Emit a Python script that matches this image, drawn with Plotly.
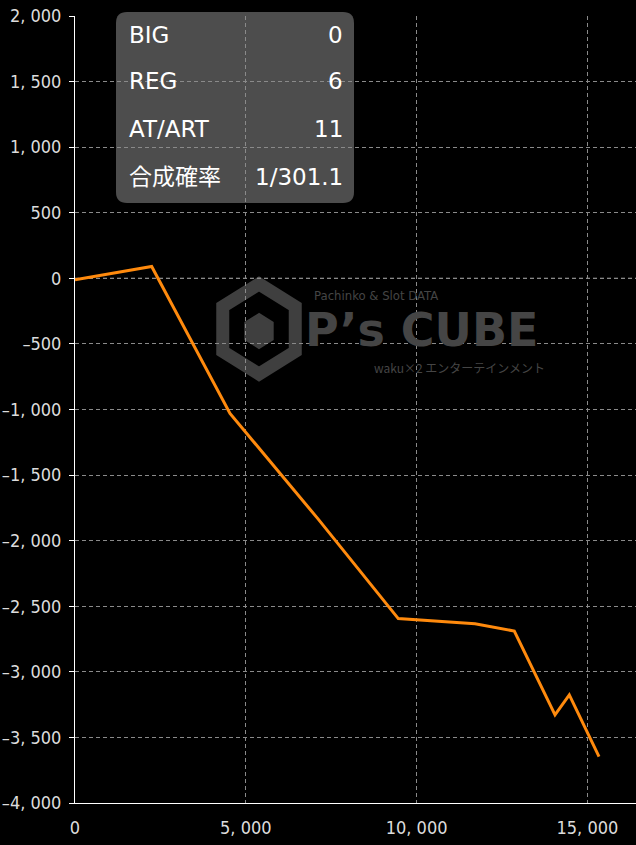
import math
import plotly.graph_objects as go

games = [0, 2245, 4537, 7114, 9464, 11710, 12860, 14052, 14470, 15340]
diff = [-10, 90, -1030, -1834, -2594, -2633, -2689, -3328, -3176, -3646]

stat_labels = ["BIG", "REG", "AT/ART", "合成確率"]
stat_values = ["0", "6", "11", "1/301.1"]

x_ticks = [0, 5000, 10000, 15000]
x_ticktext = ["0", "5, 000", "10, 000", "15, 000"]
y_ticks = [2000, 1500, 1000, 500, 0, -500, -1000, -1500, -2000, -2500, -3000, -3500, -4000]
y_ticktext = ["2, 000", "1, 500", "1, 000", "500", "0", "–500", "–1, 000", "–1, 500",
              "–2, 000", "–2, 500", "–3, 000", "–3, 500", "–4, 000"]

W, H = 636, 845
L, R, T, B = 75, 0, 16, 42
PW, PH = W - L - R, H - T - B

def px(x):
    return (x - L) / PW

def py(y):
    return (H - B - y) / PH

TICKFONT = dict(family="DejaVu Sans Condensed, sans-serif", size=18, color="#dcdcdc")
BOXFONT = dict(family="DejaVu Sans, Noto Sans CJK JP, sans-serif", size=23, color="#ffffff")

fig = go.Figure()
fig.add_trace(go.Scatter(x=games, y=diff, mode="lines",
                         line=dict(color="#ff8a0d", width=3), hoverinfo="skip"))

shapes = []
x0, x1, y0, y1, r = 116, 354, 12, 203, 11
path = (f"M {px(x0+r)},{py(y0)} L {px(x1-r)},{py(y0)} Q {px(x1)},{py(y0)} {px(x1)},{py(y0+r)} "
        f"L {px(x1)},{py(y1-r)} Q {px(x1)},{py(y1)} {px(x1-r)},{py(y1)} "
        f"L {px(x0+r)},{py(y1)} Q {px(x0)},{py(y1)} {px(x0)},{py(y1-r)} "
        f"L {px(x0)},{py(y0+r)} Q {px(x0)},{py(y0)} {px(x0+r)},{py(y0)} Z")
shapes.append(dict(type="path", path=path, xref="paper", yref="paper",
                   fillcolor="#4d4d4d", line=dict(width=0), layer="below"))

cx, cy, rad = 259, 329, 45
def hexpath(cx, cy, rr):
    pts = []
    for k in range(6):
        a = math.radians(90 + 60 * k)
        pts.append((cx + rr * math.cos(a) * 0.93, cy - rr * math.sin(a)))
    return "M " + " L ".join(f"{px(a)},{py(b)}" for a, b in pts) + " Z"
shapes.append(dict(type="path", path=hexpath(cx, cy, rad), xref="paper", yref="paper",
                   fillcolor="rgba(0,0,0,0)", line=dict(color="#3f3f3f", width=13), layer="below"))
shapes.append(dict(type="path", path=hexpath(cx, cy + 2, 17), xref="paper", yref="paper",
                   fillcolor="#3f3f3f", line=dict(color="#3f3f3f", width=2), layer="below"))

shapes.append(dict(type="line", xref="paper", yref="y", x0=0, x1=1, y0=0, y1=0,
                   line=dict(color="#f0f0f0", width=1, dash="4px,3px"), layer="between"))

annotations = []
row_y = [35, 81, 129, 177]
for lab, val, yy in zip(stat_labels, stat_values, row_y):
    annotations.append(dict(x=px(127), y=py(yy), xref="paper", yref="paper", text=lab,
                            showarrow=False, xanchor="left", yanchor="middle", font=BOXFONT))
    annotations.append(dict(x=px(345), y=py(yy), xref="paper", yref="paper", text=val,
                            showarrow=False, xanchor="right", yanchor="middle", font=BOXFONT))

wm = "#454545"
annotations.append(dict(x=px(312), y=py(295), xref="paper", yref="paper", text="Pachinko &amp; Slot DATA",
                        showarrow=False, xanchor="left", yanchor="middle",
                        font=dict(family="DejaVu Sans Condensed, sans-serif", size=13, color=wm)))
annotations.append(dict(x=px(303), y=py(330), xref="paper", yref="paper", text="<b>P’s CUBE</b>",
                        showarrow=False, xanchor="left", yanchor="middle",
                        font=dict(family="DejaVu Sans, sans-serif", size=46, color=wm)))
annotations.append(dict(x=px(372), y=py(367), xref="paper", yref="paper", text="waku×2 エンターテインメント",
                        showarrow=False, xanchor="left", yanchor="middle",
                        font=dict(family="Noto Sans CJK JP, sans-serif", size=12, color=wm)))

fig.update_layout(
    width=W, height=H,
    margin=dict(l=L, r=R, t=T, b=B, pad=0, autoexpand=False),
    paper_bgcolor="#000000", plot_bgcolor="#000000",
    showlegend=False,
    shapes=shapes, annotations=annotations,
    xaxis=dict(range=[0, (W - L) / 0.03416], tickvals=x_ticks, ticktext=x_ticktext,
               showgrid=True, gridcolor="#8a8a8a", griddash="4px,3px", gridwidth=1,
               zeroline=False, showline=True, linecolor="#ffffff", linewidth=1,
               ticks="", tickfont=TICKFONT, fixedrange=True, automargin=False,
               ticklabelstandoff=8),
    yaxis=dict(range=[-4000, 2000], tickvals=y_ticks, ticktext=y_ticktext,
               showgrid=True, gridcolor="#8a8a8a", griddash="4px,3px", gridwidth=1,
               zeroline=False, showline=True, linecolor="#ffffff", linewidth=1,
               ticks="outside", ticklen=5, tickcolor="#ffffff", tickfont=TICKFONT,
               fixedrange=True, automargin=False, ticklabelstandoff=4),
)

fig.write_html("out.html", config={"displayModeBar": False},
               post_script="document.body.style.margin='0px';document.body.style.overflow='hidden';")
